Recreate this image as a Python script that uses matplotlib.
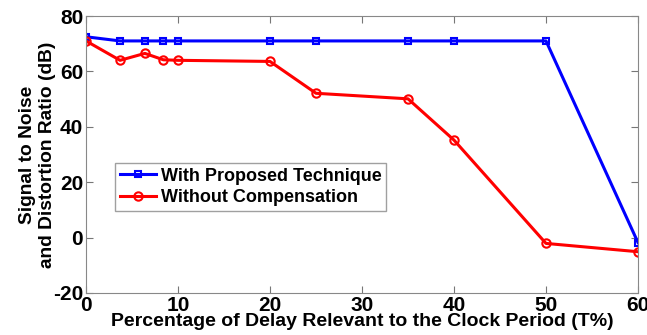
import matplotlib
matplotlib.use("Agg")
import matplotlib.pyplot as plt

plt.rcParams['font.family'] = ['Liberation Sans', 'DejaVu Sans']
plt.rcParams['axes.unicode_minus'] = False

x_blue = [0, 3.7, 6.4, 8.4, 10, 20, 25, 35, 40, 50, 60]
y_blue = [72.5, 71, 71, 71, 71, 71, 71, 71, 71, 71, -1.8]
x_red = [0, 3.7, 6.4, 8.4, 10, 20, 25, 35, 40, 50, 60]
y_red = [71, 64, 66.5, 64.2, 64, 63.6, 52.1, 50.1, 35.2, -2.1, -5.1]
xticks = [0, 10, 20, 30, 40, 50, 60]
yticks = [-20, 0, 20, 40, 60, 80]

fig = plt.figure(figsize=(6.47, 3.35), dpi=100)
ax = fig.add_axes([86/647, 42/335, 552/647, 277/335])
ax.plot(x_blue, y_blue, color='#0000ff', lw=2.2, marker='s', ms=5, mfc='none', mew=1.5,
        label='With Proposed Technique')
ax.plot(x_red, y_red, color='#ff0000', lw=2.2, marker='o', ms=6, mfc='none', mew=1.5,
        label='Without Compensation')
ax.set_xlim(0, 60)
ax.set_ylim(-20, 80)
ax.set_xticks(xticks)
ax.set_yticks(yticks)
ax.tick_params(direction='in', top=True, right=True, length=5, width=0.8, color='#777777',
               labelsize=15, pad=2)
for lbl in ax.get_xticklabels() + ax.get_yticklabels():
    lbl.set_fontweight('bold')
for s in ax.spines.values():
    s.set_color('#888888')
ax.set_xlabel('Percentage of Delay Relevant to the Clock Period (T%)', fontsize=14,
              fontweight='bold', labelpad=-1)
ax.set_ylabel('Signal to Noise\nand Distortion Ratio (dB)', fontsize=13.8,
              fontweight='bold', labelpad=-2, linespacing=1.25)
leg = ax.legend(loc='upper left', bbox_to_anchor=(29/552, (293-163)/277), fontsize=13,
                frameon=True, fancybox=False, edgecolor='#888888', handlelength=2.0,
                borderpad=0.25, labelspacing=0.25, handletextpad=0.3, borderaxespad=0)
for t in leg.get_texts():
    t.set_fontweight('bold')
fig.savefig('out.png', dpi=100)
